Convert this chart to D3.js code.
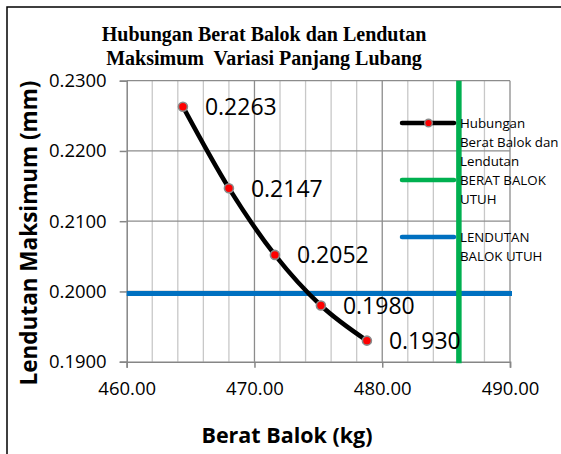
<!DOCTYPE html>
<html><head><meta charset="utf-8">
<script src="https://cdn.jsdelivr.net/npm/d3@7"></script>
<style>body{margin:0;background:#fff}svg{display:block}</style>
</head><body>
<svg id="c" width="561" height="454"></svg>
<script>
// Data
const beratBalok = [464.4, 468.0, 471.6, 475.2, 478.8];
const lendutan = [0.2263, 0.2147, 0.2052, 0.1980, 0.1930];
const lendutanLabels = ["0.2263", "0.2147", "0.2052", "0.1980", "0.1930"];
const beratBalokUtuh = 486.0;
const lendutanBalokUtuh = 0.1997;
const xTicks = [460, 470, 480, 490];
const xMinorTicks = [462,464,466,468,472,474,476,478,482,484,486,488];
const yTicks = [0.19, 0.20, 0.21, 0.22, 0.23];
const titleLines = ["Hubungan Berat Balok dan Lendutan", "Maksimum  Variasi Panjang Lubang"];
const legendItems = [
  {lines:["Hubungan","Berat Balok dan","Lendutan"], type:"series"},
  {lines:["BERAT BALOK","UTUH"], type:"green"},
  {lines:["LENDUTAN","BALOK UTUH"], type:"blue"}
];

const svg = d3.select("#c");
const L = 126.7, R = 510, T = 80.7, B = 361.7;
const x = d3.scaleLinear().domain([460, 490]).range([L, R]);
const y = d3.scaleLinear().domain([0.19, 0.23]).range([B, T]);
const sans = "'Open Sans', sans-serif";

// frame
svg.append("rect").attr("x",7).attr("y",7).attr("width",620).attr("height",520)
  .attr("fill","none").attr("stroke","#000").attr("stroke-width",1.5);

// title
svg.append("g").selectAll("text").data(titleLines).join("text")
  .attr("x",264).attr("y",(d,i)=>41+i*23.5).attr("text-anchor","middle")
  .attr("font-family","'Liberation Serif', serif").attr("font-weight","bold")
  .attr("font-size",20).attr("fill","#000").style("white-space","pre").text(d=>d);

// minor vertical gridlines
svg.append("g").selectAll("line").data(xMinorTicks).join("line")
  .attr("x1",d=>x(d)).attr("x2",d=>x(d)).attr("y1",T).attr("y2",B)
  .attr("stroke","#c8c8c8").attr("stroke-width",1.3);
// major vertical gridlines
svg.append("g").selectAll("line").data(xTicks.slice(1)).join("line")
  .attr("x1",d=>x(d)).attr("x2",d=>x(d)).attr("y1",T).attr("y2",B)
  .attr("stroke","#8c8c8c").attr("stroke-width",1.3);
// horizontal gridlines
svg.append("g").selectAll("line").data(yTicks.slice(1)).join("line")
  .attr("x1",L).attr("x2",R).attr("y1",d=>y(d)).attr("y2",d=>y(d))
  .attr("stroke","#8c8c8c").attr("stroke-width",1.3);

// axes
const xAxis = svg.append("g").attr("transform",`translate(0,${B})`)
  .call(d3.axisBottom(x).tickValues(xTicks).tickSize(6).tickPadding(14).tickFormat(d3.format(".2f")));
const yAxis = svg.append("g").attr("transform",`translate(${L},0)`)
  .call(d3.axisLeft(y).tickValues(yTicks).tickSize(7).tickPadding(13).tickFormat(d3.format(".4f")));
[xAxis,yAxis].forEach(a=>{
  a.select(".domain").attr("stroke","#868686").attr("stroke-width",1.5);
  a.selectAll(".tick line").attr("stroke","#868686").attr("stroke-width",1.5);
  a.selectAll("text").attr("font-family",sans).attr("font-size",18.5).attr("fill","#000");
});

// reference lines
svg.append("line").attr("x1",L).attr("x2",R+2).attr("y1",y(lendutanBalokUtuh)).attr("y2",y(lendutanBalokUtuh))
  .attr("stroke","#0070c0").attr("stroke-width",5);
svg.append("line").attr("x1",x(beratBalokUtuh)).attr("x2",x(beratBalokUtuh)).attr("y1",T).attr("y2",B+1.5)
  .attr("stroke","#00b050").attr("stroke-width",5.5);

// series
const pts = beratBalok.map((d,i)=>[d, lendutan[i]]);
svg.append("path").datum(pts)
  .attr("d", d3.line().x(d=>x(d[0])).y(d=>y(d[1])).curve(d3.curveCardinal.tension(0)))
  .attr("fill","none").attr("stroke","#000").attr("stroke-width",4.5);
svg.append("g").selectAll("circle").data(pts).join("circle")
  .attr("cx",d=>x(d[0])).attr("cy",d=>y(d[1])).attr("r",4.5)
  .attr("fill","#ff0000").attr("stroke","#8a8a8a").attr("stroke-width",1.6);
svg.append("g").selectAll("text").data(pts).join("text")
  .attr("x",d=>x(d[0])+22).attr("y",d=>y(d[1])+8.5)
  .attr("font-family",sans).attr("font-size",23).attr("fill","#000")
  .text((d,i)=>lendutanLabels[i]);

// legend
const legY = [123, 180, 237];
const lg = svg.append("g");
legendItems.forEach((it,i)=>{
  const yy = legY[i];
  const col = it.type==="series" ? "#000" : it.type==="green" ? "#00b050" : "#0070c0";
  lg.append("line").attr("x1",402).attr("x2",454).attr("y1",yy).attr("y2",yy)
    .attr("stroke",col).attr("stroke-width",4.5).attr("stroke-linecap","round");
  if(it.type==="series"){
    lg.append("circle").attr("cx",428.5).attr("cy",yy).attr("r",3.8)
      .attr("fill","#ff0000").attr("stroke","#8a8a8a").attr("stroke-width",1.4);
  }
  it.lines.forEach((t,j)=>{
    lg.append("text").attr("x",460).attr("y",yy+5+j*19)
      .attr("font-family",sans).attr("font-size",13.3).attr("fill","#000").text(t);
  });
});

// axis titles
svg.append("text").attr("x",287).attr("y",443).attr("text-anchor","middle")
  .attr("font-family",sans).attr("font-weight","bold").attr("font-size",21.5).attr("fill","#000")
  .text("Berat Balok (kg)");
svg.append("text").attr("transform","translate(36.5,233) rotate(-90)").attr("text-anchor","middle")
  .attr("font-family",sans).attr("font-weight","bold").attr("font-size",22.5).attr("fill","#000")
  .text("Lendutan Maksimum (mm)");
</script>
</body></html>
